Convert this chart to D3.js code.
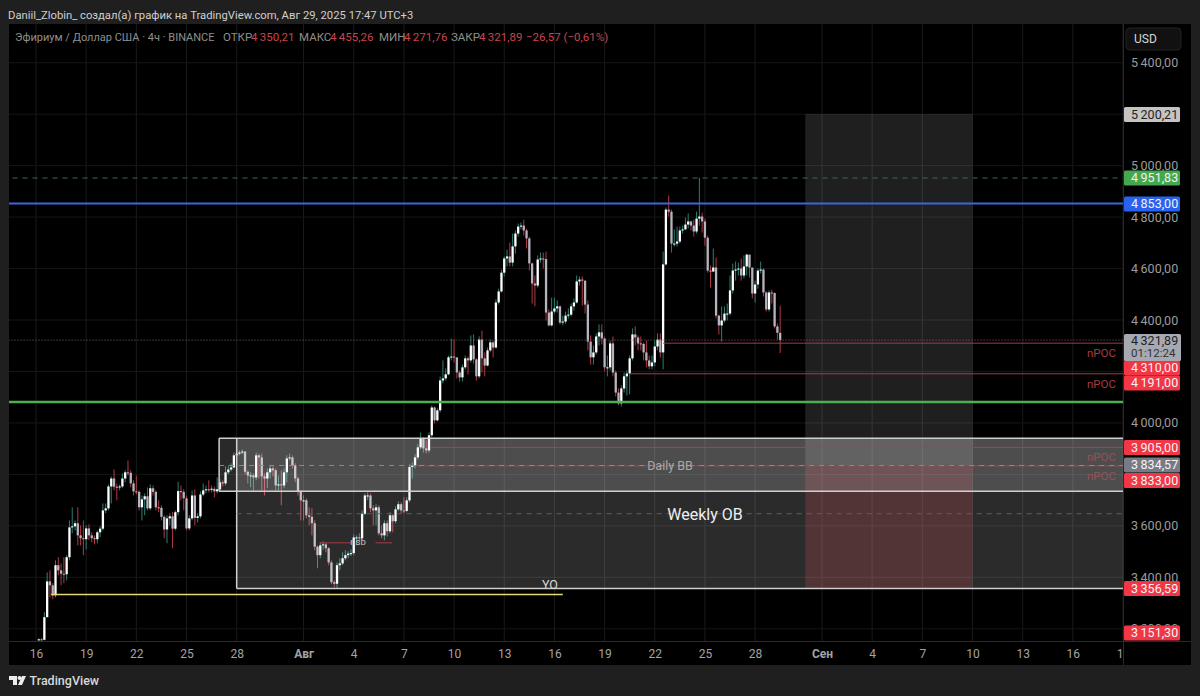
<!DOCTYPE html>
<html>
<head>
<meta charset="utf-8">
<script src="https://cdn.jsdelivr.net/npm/d3@7"></script>
<style>
html, body { margin: 0; padding: 0; background: #1f1f1f; }
svg { display: block; font-family: "Roboto", "Liberation Sans", sans-serif; }
</style>
</head>
<body>
<div id="chart"></div>
<script>
const w = 1200;
const h = 696;

// 4h candles, first one is Jul 16 04:00, open = previous close
const firstOpen = 3155;
const closes = [
  3159,3157,3245,3384,3369,3330,3447,3427,3414,3412,
  3478,3594,3598,3610,3563,3552,3548,3590,3563,3552,
  3548,3575,3589,3660,3668,3753,3784,3752,3750,3753,
  3784,3808,3806,3765,3734,3732,3672,3703,3715,3668,
  3746,3732,3672,3670,3635,3586,3629,3637,3589,3653,
  3735,3732,3707,3590,3629,3718,3631,3637,3722,3738,
  3742,3740,3744,3734,3742,3769,3765,3808,3819,3827,
  3874,3880,3885,3889,3810,3796,3796,3788,3874,3866,
  3792,3784,3808,3823,3816,3757,3761,3757,3808,3862,
  3866,3835,3784,3732,3699,3699,3641,3635,3610,3519,
  3486,3524,3528,3513,3458,3381,3375,3447,3454,3474,
  3486,3492,3494,3555,3555,3552,3647,3718,3718,3668,
  3660,3672,3571,3563,3610,3579,3641,3618,3664,3684,
  3660,3658,3699,3829,3835,3866,3905,3938,3901,3893,
  3952,4060,4010,4049,4165,4173,4189,4255,4258,4255,
  4196,4177,4216,4251,4243,4301,4247,4181,4324,4251,
  4223,4282,4313,4293,4468,4511,4584,4639,4647,4623,
  4686,4736,4763,4767,4748,4717,4620,4542,4534,4635,
  4639,4637,4429,4379,4433,4445,4453,4390,4394,4417,
  4421,4453,4468,4550,4557,4553,4460,4316,4255,4274,
  4336,4352,4328,4216,4216,4309,4196,4118,4076,4134,
  4181,4192,4251,4344,4332,4309,4307,4274,4243,4220,
  4235,4297,4324,4274,4616,4829,4821,4697,4697,4705,
  4748,4752,4771,4783,4767,4744,4794,4802,4783,4720,
  4592,4588,4604,4417,4379,4398,4425,4425,4515,4592,
  4596,4600,4573,4608,4654,4604,4503,4538,4592,4596,
  4507,4441,4507,4505,4375,4350.21,4321.89
];
const highs = [
  3163,3163,3265,3419,3427,3377,3466,3478,3454,3478,
  3486,3621,3672,3621,3672,3602,3621,3602,3606,3575,
  3563,3582,3598,3687,3687,3761,3792,3819,3765,3761,
  3804,3816,3854,3816,3777,3796,3738,3718,3726,3749,
  3761,3757,3738,3699,3680,3641,3641,3649,3653,3660,
  3771,3757,3742,3718,3641,3738,3742,3649,3734,3765,
  3757,3777,3757,3753,3788,3781,3777,3831,3835,3843,
  3885,3938,3893,3897,3889,3816,3808,3804,3885,3881,
  3881,3804,3823,3835,3831,3823,3796,3816,3823,3874,
  3881,3874,3843,3792,3738,3718,3707,3672,3668,3621,
  3524,3536,3540,3536,3517,3466,3388,3458,3474,3497,
  3505,3501,3509,3567,3563,3571,3660,3726,3730,3726,
  3680,3684,3680,3602,3621,3621,3653,3645,3676,3695,
  3691,3711,3711,3839,3847,3878,3917,3963,3944,3932,
  3963,4068,4064,4057,4181,4243,4212,4262,4328,4324,
  4251,4204,4227,4262,4258,4340,4344,4251,4336,4359,
  4274,4293,4324,4320,4480,4522,4596,4647,4674,4701,
  4736,4748,4775,4779,4790,4755,4724,4623,4573,4651,
  4662,4662,4666,4441,4487,4487,4476,4456,4417,4433,
  4445,4464,4484,4573,4569,4569,4553,4476,4340,4301,
  4348,4383,4383,4336,4262,4320,4336,4204,4134,4146,
  4196,4204,4262,4367,4375,4340,4336,4313,4320,4262,
  4262,4320,4348,4348,4666,4837,4884,4829,4752,4763,
  4763,4767,4798,4814,4786,4790,4821,4953,4817,4794,
  4728,4612,4678,4643,4421,4453,4453,4464,4573,4619,
  4627,4623,4639,4651,4658,4654,4600,4553,4600,4627,
  4600,4511,4515,4518,4507,4386,4455.26
];
const lows = [
  3153,3153,3155,3245,3322,3315,3322,3408,3369,3377,
  3388,3466,3571,3582,3524,3524,3486,3509,3544,3536,
  3528,3532,3555,3582,3649,3660,3687,3738,3699,3738,
  3746,3769,3796,3750,3718,3722,3660,3621,3641,3660,
  3660,3718,3660,3653,3621,3552,3532,3602,3513,3582,
  3641,3699,3660,3582,3582,3621,3602,3613,3629,3715,
  3726,3730,3730,3711,3726,3734,3753,3757,3800,3812,
  3823,3870,3874,3878,3800,3765,3750,3734,3777,3784,
  3738,3718,3746,3784,3792,3738,3738,3680,3746,3769,
  3854,3823,3769,3718,3621,3621,3629,3602,3563,3505,
  3435,3474,3505,3497,3447,3373,3361,3357,3427,3447,
  3466,3474,3482,3486,3524,3536,3544,3641,3699,3653,
  3602,3602,3563,3552,3544,3559,3571,3575,3610,3657,
  3649,3649,3653,3691,3784,3823,3858,3897,3885,3881,
  3885,3944,3998,4006,4041,4154,4165,4185,4243,4235,
  4173,4161,4161,4208,4189,4235,4231,4165,4173,4196,
  4181,4220,4274,4254,4289,4460,4507,4569,4608,4608,
  4608,4658,4724,4752,4728,4678,4592,4464,4453,4526,
  4623,4600,4398,4375,4375,4425,4429,4383,4379,4386,
  4406,4414,4437,4464,4534,4456,4425,4282,4227,4227,
  4266,4301,4305,4200,4181,4204,4181,4103,4068,4064,
  4118,4107,4111,4243,4301,4282,4282,4243,4216,4208,
  4208,4220,4282,4254,4208,4612,4802,4662,4686,4686,
  4697,4736,4752,4756,4748,4724,4736,4767,4740,4689,
  4584,4526,4592,4406,4344,4316,4390,4398,4417,4503,
  4553,4573,4553,4561,4573,4565,4484,4468,4522,4581,
  4491,4433,4433,4464,4367,4324,4271.76
];

const dayTicks = [
  "2025-07-16","2025-07-19","2025-07-22","2025-07-25","2025-07-28",
  "2025-08-01","2025-08-04","2025-08-07","2025-08-10","2025-08-13","2025-08-16",
  "2025-08-19","2025-08-22","2025-08-25","2025-08-28",
  "2025-09-01","2025-09-04","2025-09-07","2025-09-10","2025-09-13","2025-09-16","2025-09-19"
].map(d => new Date(d + "T00:00:00Z"));
const gridPrices = [3200, 3400, 3600, 3800, 4000, 4200, 4400, 4600, 4800, 5000, 5200, 5400];
const axisPrices = [3200, 3400, 3600, 4000, 4400, 4600, 4800, 5000, 5400];

const levelPrices = { stop: 5200.21, target: 4951.83, blue: 4853, last: 4321.89, poc1: 4310, poc2: 4191, green: 4081, poc3: 3905, mid: 3834.57, poc4: 3833, weeklyMid: 3647, low: 3356.59, open: 3151.3, yo: 3333, nsb: 3534 };
const boxTop = 3940;
const boxBBLow = 3734;

const plotL = 9, plotR = 1123, plotT = 24, plotB = 641;

const t0 = Date.UTC(2025, 6, 16);
const dayMs = 24 * 3600 * 1000;
const day = n => new Date(t0 + n * dayMs);

const xScale = d3.scaleUtc()
  .domain([day(0), day(65)])
  .range([36, 1123]);
const yScale = d3.scaleLinear()
  .domain([3400, 5400])
  .range([577.3, 62.7]);

const candles = closes.map((c, i) => ({
  t: new Date(t0 + (i + 1) * 4 * 3600 * 1000),
  o: i == 0 ? firstOpen : closes[i - 1],
  c: c,
  hi: highs[i],
  lo: lows[i]
}));

const svg = d3.select('#chart')
  .append('svg')
  .attr('width', w)
  .attr('height', h);

// panel
svg.append('rect').attr('width', w).attr('height', h).attr('fill', '#1f1f1f');
svg.append('rect').attr('x', plotL).attr('y', plotT).attr('width', 1191 - plotL).attr('height', 665 - plotT).attr('fill', '#000');

const defs = svg.append('defs');
defs.append('clipPath').attr('id', 'plot').append('rect')
  .attr('x', plotL).attr('y', plotT).attr('width', plotR - plotL).attr('height', plotB - plotT);
defs.append('clipPath').attr('id', 'xclip').append('rect')
  .attr('x', plotL).attr('y', plotB).attr('width', plotR - plotL - 1).attr('height', 24);

const plot = svg.append('g').attr('clip-path', 'url(#plot)');

// grid
plot.selectAll('line.gx').data(dayTicks).enter().append('line')
  .attr('x1', d => xScale(d)).attr('x2', d => xScale(d))
  .attr('y1', plotT).attr('y2', plotB)
  .attr('stroke', '#1a1a1a');
plot.selectAll('line.gy').data(gridPrices).enter().append('line')
  .attr('x1', plotL).attr('x2', plotR)
  .attr('y1', d => yScale(d)).attr('y2', d => yScale(d))
  .attr('stroke', '#161616');

// candles
const bodyW = 2.3;
plot.selectAll('line.wick').data(candles).enter().append('line')
  .attr('x1', d => xScale(d.t)).attr('x2', d => xScale(d.t))
  .attr('y1', d => yScale(d.hi)).attr('y2', d => yScale(d.lo))
  .attr('stroke', d => d.c >= d.o ? '#2a8073' : '#b03a46')
  .attr('stroke-width', 1);
plot.selectAll('rect.body').data(candles).enter().append('rect')
  .attr('x', d => xScale(d.t) - bodyW / 2)
  .attr('width', bodyW)
  .attr('y', d => yScale(Math.max(d.o, d.c)))
  .attr('height', d => Math.max(1, Math.abs(yScale(d.o) - yScale(d.c))))
  .attr('fill', d => d.c >= d.o ? '#ffffff' : '#b4b4be');

// zones
const rectP = (x0, x1, pTop, pBot, fill) => plot.append('rect')
  .attr('x', xScale(day(x0))).attr('width', xScale(day(x1)) - xScale(day(x0)))
  .attr('y', yScale(pTop)).attr('height', yScale(pBot) - yScale(pTop))
  .attr('fill', fill);

rectP(46, 56, levelPrices.stop, levelPrices.mid, 'rgba(255,255,255,0.12)');
rectP(46, 56, levelPrices.mid, levelPrices.low, 'rgba(242,54,69,0.2)');
rectP(12, 65, boxTop, levelPrices.low, 'rgba(255,255,255,0.17)');
rectP(10.95, 65, boxTop, boxBBLow, 'rgba(255,255,255,0.16)');

const hLine = (x0, x1, p, color, width, dash) => plot.append('line')
  .attr('x1', xScale(day(x0))).attr('x2', xScale(day(x1)))
  .attr('y1', yScale(p)).attr('y2', yScale(p))
  .attr('stroke', color).attr('stroke-width', width)
  .attr('stroke-dasharray', dash || null);
const vLine = (x0, pTop, pBot, color, width) => plot.append('line')
  .attr('x1', xScale(day(x0))).attr('x2', xScale(day(x0)))
  .attr('y1', yScale(pTop)).attr('y2', yScale(pBot))
  .attr('stroke', color).attr('stroke-width', width);

// box outlines
const boxColor = '#cfcfcf';
hLine(10.95, 65, boxTop, boxColor, 1.5);
hLine(10.95, 65, boxBBLow, boxColor, 1.5);
vLine(10.95, boxTop, boxBBLow, boxColor, 1.5);
vLine(12, boxTop, levelPrices.low, boxColor, 1.5);
hLine(12, 65, levelPrices.low, boxColor, 1.5);

// levels, -2 is past the left edge of the plot
hLine(12, 65, levelPrices.weeklyMid, '#5f5f5f', 1, '5,5');
hLine(-2, 65, levelPrices.target, '#3c6e46', 1, '5,5');
hLine(-2, 65, levelPrices.blue, '#3a66e0', 2);
hLine(-2, 65, levelPrices.green, '#4caf50', 2.5);
hLine(-2, 65, levelPrices.last, '#6f6f6f', 1, '1,2');
hLine(37.5, 65, levelPrices.poc1, '#a83a44', 1);
hLine(35.5, 65, levelPrices.poc2, '#a83a44', 1);
hLine(23.6, 65, levelPrices.poc3, '#9c4a50', 1);
hLine(22.7, 65, levelPrices.poc4, '#9c4a50', 1);
hLine(10.95, 65, levelPrices.mid, '#8a8a8a', 1, '5,5');
hLine(0.9, 31.5, levelPrices.yo, '#e6d777', 1.5);
hLine(17.0, 18.9, levelPrices.nsb, '#a83a44', 1);
hLine(20.3, 21.3, levelPrices.nsb, '#a83a44', 1);

// labels inside the plot
const note = (txt, x, y, size, fill, anchor) => plot.append('text')
  .attr('x', x).attr('y', y).attr('dy', '0.35em')
  .attr('text-anchor', anchor || 'middle')
  .attr('font-size', size).attr('fill', fill)
  .text(txt);
note('nPOC', 1116, 352.5, 11.5, '#a83a44', 'end');
note('nPOC', 1116, 383.5, 11.5, '#a83a44', 'end');
note('nPOC', 1116, 457, 11.5, '#95525a', 'end');
note('nPOC', 1116, 475.5, 11.5, '#95525a', 'end');
note('Daily BB', 670, 466, 12.5, '#a8a8a8');
note('Weekly OB', 705, 514, 16, '#eeeeee');
note('YO', 550, 584.5, 12.5, '#d8d8d8');
note('nsb', 358, 542, 9.5, '#c4c4c4');

// axes
const ruLocale = d3.formatLocale({ decimal: ',', thousands: '\u2009', grouping: [3], currency: ['', ''] });
const fmt = ruLocale.format(',.2f');

const monthLabel = d => {
  if (d.getUTCDate() == 1) return d.getUTCMonth() == 7 ? 'Авг' : 'Сен';
  return String(d.getUTCDate());
};
const xAxis = d3.axisBottom(xScale).tickValues(dayTicks).tickFormat(monthLabel).tickSize(0).tickPadding(8);
const yAxis = d3.axisRight(yScale).tickValues(axisPrices).tickFormat(fmt).tickSize(0).tickPadding(8);

const xG = svg.append('g')
  .attr('clip-path', 'url(#xclip)')
  .append('g')
  .attr('transform', `translate(0,${plotB})`)
  .call(xAxis);
xG.select('.domain').remove();
xG.selectAll('text').attr('font-size', 12).attr('fill', '#a3a3a3').attr('font-family', 'Roboto, sans-serif')
  .attr('font-weight', d => d.getUTCDate() == 1 ? 700 : 400);

const yG = svg.append('g')
  .attr('transform', `translate(${plotR},0)`)
  .call(yAxis);
yG.select('.domain').remove();
yG.selectAll('text').attr('font-size', 12.5).attr('fill', '#9c9c9c').attr('font-family', 'Roboto, sans-serif');

svg.append('line').attr('x1', plotR + .5).attr('x2', plotR + .5).attr('y1', plotT).attr('y2', 665).attr('stroke', '#2a2a2a');
svg.append('line').attr('x1', plotL).attr('x2', 1191).attr('y1', plotB + .5).attr('y2', plotB + .5).attr('stroke', '#2a2a2a');

// USD box
svg.append('rect').attr('x', 1126).attr('y', 28).attr('width', 55).attr('height', 22).attr('rx', 4)
  .attr('fill', '#111').attr('stroke', '#222');
svg.append('text').attr('x', 1134).attr('y', 39).attr('dy', '0.35em').attr('font-size', 12).attr('fill', '#d6d6d6').text('USD');

// price labels on the scale
const priceLabels = [
  { p: levelPrices.stop, cy: 114.5, bg: '#c4c4c4', fg: '#222' },
  { p: levelPrices.target, cy: 178, bg: '#46a84e', fg: '#f2f2f2' },
  { p: levelPrices.blue, cy: 204, bg: '#2a62f0', fg: '#f2f2f2' },
  { p: levelPrices.poc1, cy: 368, bg: '#f23645', fg: '#f4f4f4' },
  { p: levelPrices.poc2, cy: 383, bg: '#f23645', fg: '#f4f4f4' },
  { p: levelPrices.poc3, cy: 447.5, bg: '#f23645', fg: '#f4f4f4' },
  { p: levelPrices.poc4, cy: 480.5, bg: '#f23645', fg: '#f4f4f4' },
  { p: levelPrices.mid, cy: 465, bg: '#787b86', fg: '#f4f4f4' },
  { p: levelPrices.low, cy: 588.5, bg: '#f23645', fg: '#f4f4f4' },
  { p: levelPrices.open, cy: 633, bg: '#f23645', fg: '#f4f4f4' }
];
const lg = svg.append('g').selectAll('g').data(priceLabels).enter().append('g');
lg.append('rect').attr('x', plotR + 1).attr('width', 56).attr('y', d => d.cy - 7.5).attr('height', 15).attr('rx', 1.5)
  .attr('fill', d => d.bg);
lg.append('text').attr('x', plotR + 8).attr('y', d => d.cy).attr('dy', '0.35em')
  .attr('font-size', 12.5).attr('fill', d => d.fg).text(d => fmt(d.p));

// last price with countdown
svg.append('rect').attr('x', plotR + 1).attr('y', 334).attr('width', 57).attr('height', 27).attr('rx', 1.5).attr('fill', '#a7a9b2');
svg.append('text').attr('x', plotR + 8).attr('y', 341).attr('dy', '0.35em').attr('font-size', 12.5).attr('fill', '#222').text(fmt(levelPrices.last));
svg.append('text').attr('x', plotR + 8).attr('y', 353).attr('dy', '0.35em').attr('font-size', 11.5).attr('fill', '#333').text('01:12:24');

// header
svg.append('text').attr('x', 8).attr('y', 15.5).attr('dy', '0.35em').attr('font-size', 11.25).attr('fill', '#cfcfcf')
  .text('Daniil_Zlobin_ создал(а) график на TradingView.com, Авг 29, 2025 17:47 UTC+3');

// legend
const legendParts = [
  { x: 15, txt: 'Эфириум / Доллар США · 4ч · BINANCE', fill: '#8f8f8f', size: 11 },
  { x: 223, txt: 'ОТКР', fill: '#8f8f8f', size: 11.5 },
  { x: 251, txt: fmt(4350.21), fill: '#c9454f', size: 11.5 },
  { x: 299, txt: 'МАКС', fill: '#8f8f8f', size: 11.5 },
  { x: 330, txt: fmt(4455.26), fill: '#c9454f', size: 11.5 },
  { x: 379, txt: 'МИН', fill: '#8f8f8f', size: 11.5 },
  { x: 404, txt: fmt(4271.76), fill: '#c9454f', size: 11.5 },
  { x: 451, txt: 'ЗАКР', fill: '#8f8f8f', size: 11.5 },
  { x: 479, txt: fmt(4321.89), fill: '#c9454f', size: 11.5 },
  { x: 526, txt: '−26,57 (−0,61%)', fill: '#c9454f', size: 11.5 }
];
svg.append('g').selectAll('text').data(legendParts).enter().append('text')
  .attr('x', d => d.x).attr('y', 37).attr('dy', '0.35em')
  .attr('font-size', d => d.size).attr('fill', d => d.fill).text(d => d.txt);

// footer logo
svg.append('path').attr('fill', '#ececec').attr('d', 'M9 676h8v9h-4v-5h-4z M26 676l-4 9h-4l4-9z');
svg.append('circle').attr('cx', 19.5).attr('cy', 678).attr('r', 2).attr('fill', '#ececec');
svg.append('text').attr('x', 29.5).attr('y', 681).attr('dy', '0.35em').attr('font-size', 12.5).attr('font-weight', 500).attr('fill', '#d8d8d8').text('TradingView');
</script>
</body>
</html>
